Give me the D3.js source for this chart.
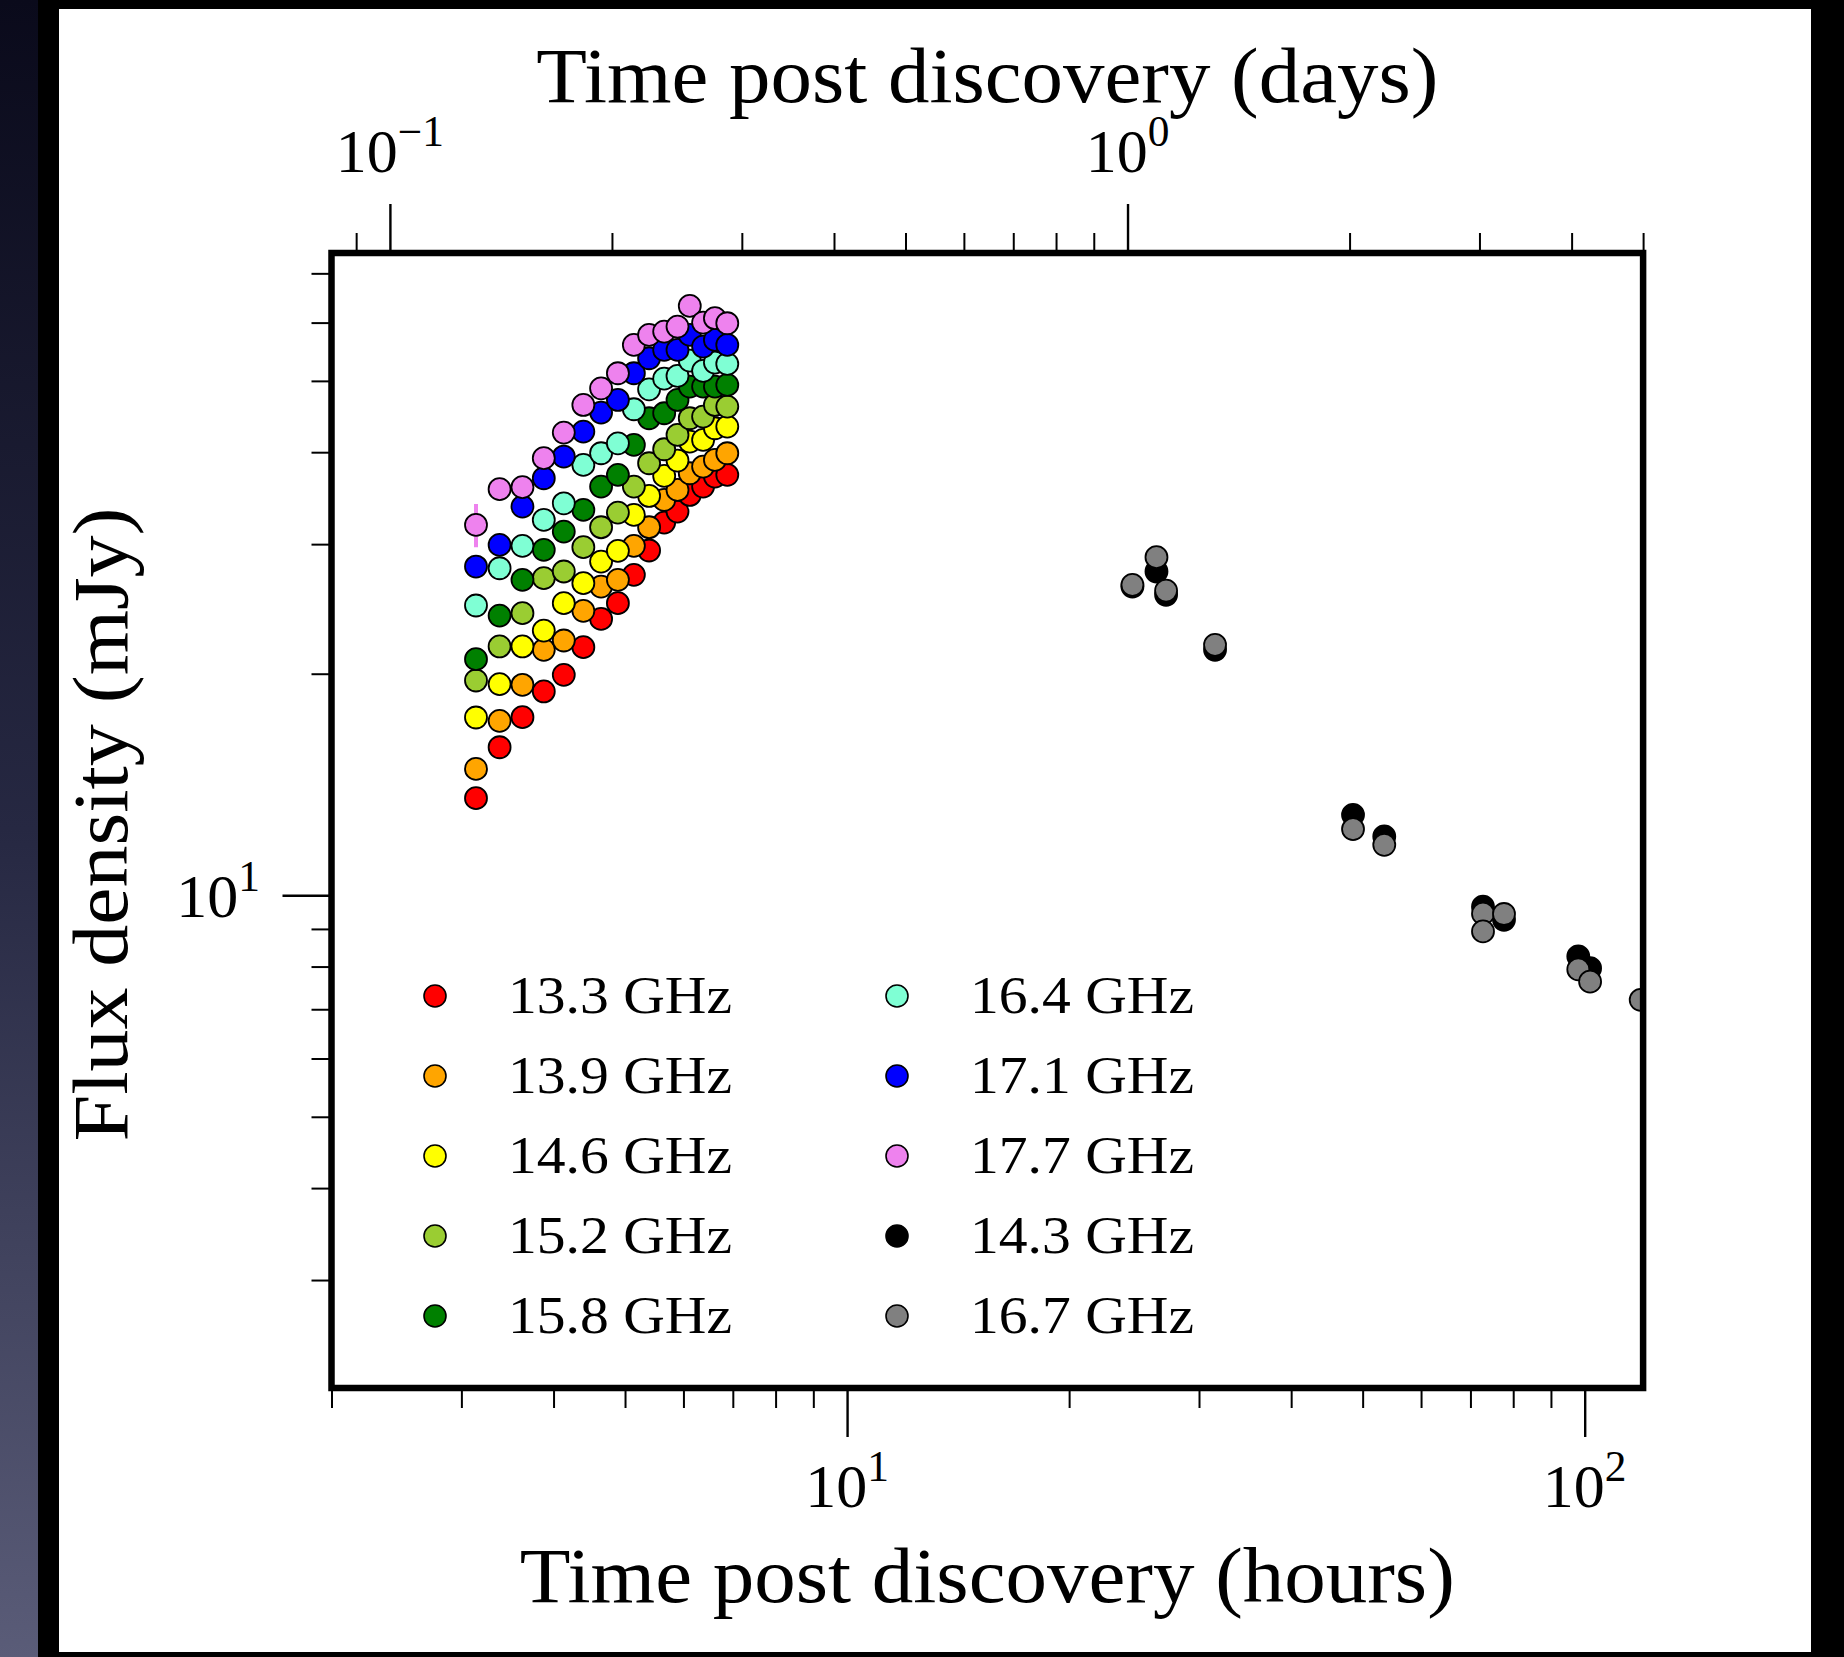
<!DOCTYPE html>
<html><head><meta charset="utf-8">
<script src="https://cdn.jsdelivr.net/npm/d3@7"></script>
<style>html,body{margin:0;padding:0;background:#000;} svg{display:block;}</style>
</head><body>
<svg id="c" width="1844" height="1657"></svg>
<script>
// ---------- DATA ----------
const seriesLabels = ["13.3 GHz","13.9 GHz","14.6 GHz","15.2 GHz","15.8 GHz","16.4 GHz","17.1 GHz","17.7 GHz","14.3 GHz","16.7 GHz"];
const seriesColors = ["#ff0000","#ffa500","#ffff00","#9acd32","#008000","#7fffd4","#0000ff","#ee82ee","#000000","#808080"];

// early observations (hours post discovery)
const earlyTimes = [3.14,3.38,3.63,3.88,4.13,4.39,4.64,4.89,5.14,5.39,5.65,5.89,6.12,6.38,6.62,6.88];
const flux133 = [13.55,15.89,17.46,18.92,19.93,21.73,23.74,24.94,27.25,29.41,32.09,33.22,34.99,35.92,37.06,37.26];
const flux139 = [14.85,17.26,19.32,21.55,22.19,24.35,26.27,26.83,29.84,31.63,34.45,35.55,37.45,38.24,39.05,39.87];
const flux146 = [17.44,19.36,21.78,22.89,24.94,26.55,28.41,29.38,32.87,34.88,37.14,38.97,41.35,41.57,43.11,43.34];
const flux152 = [19.58,21.78,24.17,26.97,27.54,29.72,31.63,33.11,35.92,38.64,40.37,42.22,44.48,44.71,46.37,46.13];
const flux158 = [20.93,23.99,26.83,29.47,31.20,33.39,35.92,37.26,40.92,44.48,45.18,47.10,49.11,49.11,49.11,49.37];
const flux164 = [24.76,27.82,29.84,32.36,34.09,38.44,39.87,41.13,45.75,48.70,50.35,50.78,53.28,51.59,52.95,52.73];
const flux171 = [27.97,29.93,33.74,36.87,39.46,42.66,45.28,47.10,51.21,53.67,55.09,55.09,57.74,55.67,56.84,55.96];
const flux177 = [31.86,35.63,35.85,39.26,42.53,46.37,48.85,51.21,55.96,57.74,58.34,59.26,63.22,60.01,60.83,59.88];
const err177  = [2.15,0,0,0,0,0,0,0,0,0,0,0,0,0,0,0];

// late observations
const times143 = [24.37,26.27,27.07,31.54,48.52,53.49,72.80,77.73,98.02,101.7];
const flux143  = [26.27,27.54,25.60,21.55,12.86,12.02,9.65,9.26,8.26,7.96];
const times167 = [24.37,26.27,27.07,31.54,48.52,53.49,72.80,72.80,77.73,98.02,101.7,119.1];
const flux167  = [26.41,28.80,25.94,21.89,12.30,11.71,9.44,8.93,9.43,7.93,7.63,7.21];

// ticks
const hourMajorTicks = [10,100];
const hourMajorLabels = [["10","1"],["10","2"]];
const hourMinorTicks = [2,3,4,5,6,7,8,9,20,30,40,50,60,70,80,90];
const dayMajorTicks = [0.1,1];
const dayMajorLabels = [["10","\u22121"],["10","0"]];
const dayMinorTicks = [0.09,0.2,0.3,0.4,0.5,0.6,0.7,0.8,0.9,2,3,4,5];
const fluxMajorTicks = [10];
const fluxMajorLabels = [["10","1"]];
const fluxMinorTicks = [3,4,5,6,7,8,9,20,30,40,50,60,70];

const series = [
  {t: earlyTimes, f: flux133},
  {t: earlyTimes, f: flux139},
  {t: earlyTimes, f: flux146},
  {t: earlyTimes, f: flux152},
  {t: earlyTimes, f: flux158},
  {t: earlyTimes, f: flux164},
  {t: earlyTimes, f: flux171},
  {t: earlyTimes, f: flux177, e: err177},
  {t: times143, f: flux143},
  {t: times167, f: flux167}
];

// ---------- LAYOUT ----------
const W = 1844, H = 1657;
const L = 331.5, R = 1643.1, T = 253, B = 1388;
const FONT = "'Liberation Serif','Times New Roman',serif";

const svg = d3.select("#c");
const defs = svg.append("defs");
const grad = defs.append("linearGradient").attr("id","sideGrad")
  .attr("x1",0).attr("y1",0).attr("x2",0).attr("y2",1);
grad.append("stop").attr("offset",0).attr("stop-color","#0a0a1b");
grad.append("stop").attr("offset",0.5).attr("stop-color","#262842");
grad.append("stop").attr("offset",1).attr("stop-color","#5a5c78");
defs.append("clipPath").attr("id","plotClip").append("rect")
  .attr("x",L).attr("y",T).attr("width",R-L).attr("height",B-T);

svg.append("rect").attr("width",W).attr("height",H).attr("fill","#000");
svg.append("rect").attr("x",0).attr("y",0).attr("width",38).attr("height",H).attr("fill","url(#sideGrad)");
svg.append("rect").attr("x",59).attr("y",9).attr("width",1752).attr("height",1643).attr("fill","#fff");

const x = d3.scaleLog().domain([2,120]).range([L,R]);
const xd = d3.scaleLog().domain([2/24,5]).range([L,R]);
const y = d3.scaleLog().domain([2.14,74.6]).range([B,T]);

function cleanAxis(g, w){
  g.select(".domain").remove();
  g.selectAll(".tick text").remove();
  g.selectAll(".tick line").attr("stroke","#000").attr("stroke-width",w);
}
const MAJ = 49, MIN = 20;
// bottom (hours)
svg.append("g").attr("transform",`translate(0,${B})`)
  .call(d3.axisBottom(x).tickValues(hourMinorTicks).tickSize(MIN).tickFormat(()=>""))
  .call(g=>cleanAxis(g,2));
svg.append("g").attr("transform",`translate(0,${B})`)
  .call(d3.axisBottom(x).tickValues(hourMajorTicks).tickSize(MAJ).tickFormat(()=>""))
  .call(g=>cleanAxis(g,2.4));
// top (days)
svg.append("g").attr("transform",`translate(0,${T})`)
  .call(d3.axisTop(xd).tickValues(dayMinorTicks).tickSize(MIN).tickFormat(()=>""))
  .call(g=>cleanAxis(g,2));
svg.append("g").attr("transform",`translate(0,${T})`)
  .call(d3.axisTop(xd).tickValues(dayMajorTicks).tickSize(MAJ).tickFormat(()=>""))
  .call(g=>cleanAxis(g,2.4));
// left (flux)
svg.append("g").attr("transform",`translate(${L},0)`)
  .call(d3.axisLeft(y).tickValues(fluxMinorTicks).tickSize(MIN).tickFormat(()=>""))
  .call(g=>cleanAxis(g,2));
svg.append("g").attr("transform",`translate(${L},0)`)
  .call(d3.axisLeft(y).tickValues(fluxMajorTicks).tickSize(MAJ).tickFormat(()=>""))
  .call(g=>cleanAxis(g,2.4));

// tick labels with superscripts
const TFS = 62;
function supLabel(px, py, parts, anchor){
  const t = svg.append("text").attr("x",px).attr("y",py)
    .attr("text-anchor",anchor).attr("font-family",FONT).attr("font-size",TFS).attr("fill","#000");
  t.append("tspan").text(parts[0]);
  t.append("tspan").attr("dy",-0.42*TFS).attr("font-size",TFS*0.7).text(parts[1]);
}
hourMajorTicks.forEach((v,i)=>supLabel(x(v), 1507, hourMajorLabels[i], "middle"));
dayMajorTicks.forEach((v,i)=>supLabel(xd(v), 172, dayMajorLabels[i], "middle"));
fluxMajorTicks.forEach((v,i)=>supLabel(260, y(v)+22, fluxMajorLabels[i], "end"));

// axis titles
svg.append("text").attr("x",(L+R)/2).attr("y",1602).attr("text-anchor","middle")
  .attr("font-family",FONT).attr("font-size",79).attr("fill","#000")
  .attr("textLength",935).attr("lengthAdjust","spacingAndGlyphs")
  .text("Time post discovery (hours)");
svg.append("text").attr("x",(L+R)/2).attr("y",102).attr("text-anchor","middle")
  .attr("font-family",FONT).attr("font-size",79).attr("fill","#000")
  .attr("textLength",902).attr("lengthAdjust","spacingAndGlyphs")
  .text("Time post discovery (days)");
svg.append("text").attr("transform",`translate(127,${(T+B)/2+4}) rotate(-90)`)
  .attr("text-anchor","middle")
  .attr("font-family",FONT).attr("font-size",79).attr("fill","#000")
  .attr("textLength",634).attr("lengthAdjust","spacingAndGlyphs")
  .text("Flux density (mJy)");

// data
const plot = svg.append("g").attr("clip-path","url(#plotClip)");
const MR = 11;
series.forEach((s,si)=>{
  const g = plot.append("g");
  if (s.e) {
    g.selectAll("line.err").data(s.f.map((f,i)=>({t:s.t[i], f, e:s.e[i]})).filter(d=>d.e>0))
      .enter().append("line")
      .attr("x1",d=>x(d.t)).attr("x2",d=>x(d.t))
      .attr("y1",d=>y(d.f-d.e)).attr("y2",d=>y(d.f+d.e))
      .attr("stroke",seriesColors[si]).attr("stroke-width",4);
  }
  g.selectAll("circle").data(s.f.map((f,i)=>({t:s.t[i], f})))
    .enter().append("circle")
    .attr("cx",d=>x(d.t)).attr("cy",d=>y(d.f)).attr("r",MR)
    .attr("fill",seriesColors[si]).attr("stroke","#000").attr("stroke-width",1.8);
});

// frame
svg.append("rect").attr("x",L).attr("y",T).attr("width",R-L).attr("height",B-T)
  .attr("fill","none").attr("stroke","#000").attr("stroke-width",6.5);

// legend
const legCols = [435, 897], legTextOff = 73, legRow0 = 996, legRowStep = 80;
seriesLabels.forEach((lab,i)=>{
  const col = Math.floor(i/5), row = i%5;
  const cx = legCols[col], cy = legRow0 + row*legRowStep;
  svg.append("circle").attr("cx",cx).attr("cy",cy).attr("r",MR)
    .attr("fill",seriesColors[i]).attr("stroke","#000").attr("stroke-width",1.6);
  svg.append("text").attr("x",cx+legTextOff).attr("y",cy+17)
    .attr("font-family",FONT).attr("font-size",53).attr("fill","#000")
    .attr("textLength",224).attr("lengthAdjust","spacingAndGlyphs")
    .text(lab);
});
</script>
</body></html>
